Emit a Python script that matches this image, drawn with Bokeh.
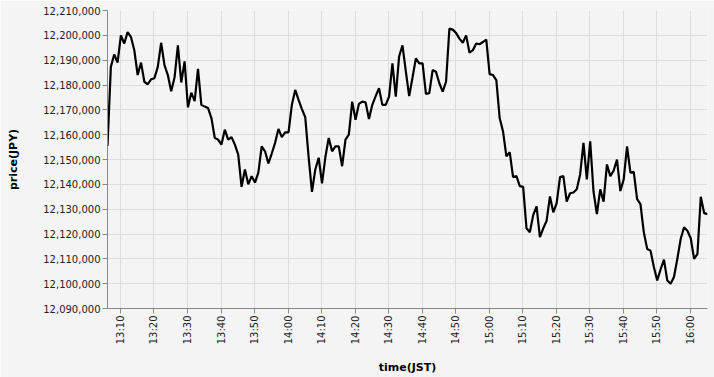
import math
import pandas as pd
from bokeh.plotting import figure
from bokeh.models import (ColumnDataSource, FixedTicker, SingleIntervalTicker,
                          NumeralTickFormatter, DatetimeTickFormatter, Range1d)
from bokeh.embed import file_html
from bokeh.resources import INLINE

# ---- data (JPY price, one value per minute starting 13:06) ----
start_time = "2024-01-01 13:06:08"
prices_1306_1359 = [
    12155500, 12187300, 12192300, 12189000, 12200000, 12196700, 12201300, 12199300,
    12194000, 12184000, 12189000, 12181300, 12180300, 12182300, 12182700, 12187300,
    12197000, 12188000, 12184000, 12177500, 12183000, 12196000, 12181000, 12189500,
    12171000, 12176900, 12173500, 12186500, 12172000, 12171300, 12170700, 12166700,
    12158700, 12158000, 12156000, 12162000, 12158000, 12159000, 12156000, 12152000,
    12139000, 12146000, 12140000, 12143300, 12140700, 12144700, 12155300, 12153300,
    12148400, 12152400, 12156700, 12162300, 12159000, 12160900,
]
prices_1400_1459 = [
    12160900, 12172000, 12178000, 12174000, 12170300, 12167000, 12151000, 12137000,
    12146000, 12150700, 12140400, 12151000, 12158700, 12153300, 12155300, 12155300,
    12147300, 12158000, 12160000, 12173300, 12166000, 12172400, 12173300, 12173000,
    12166300, 12172000, 12175500, 12178700, 12172000, 12172000, 12175300, 12188700,
    12175300, 12191500, 12196000, 12185500, 12175500, 12183000, 12190700, 12188700,
    12188700, 12176400, 12176700, 12186000, 12185300, 12180700, 12177300, 12181300,
    12202700, 12202300, 12200900, 12198700, 12197000, 12200000, 12193000, 12194000,
    12196700, 12196400, 12197300, 12198300,
]
prices_1500_1559 = [
    12184400, 12184000, 12182000, 12166700, 12161300, 12151300, 12152900, 12142900,
    12143300, 12139300, 12139000, 12122300, 12120700, 12127600, 12131100, 12118700,
    12122300, 12125300, 12135100, 12128700, 12132400, 12142900, 12143300, 12133000,
    12136400, 12136700, 12138000, 12144000, 12156700, 12142000, 12157300, 12137000,
    12128000, 12138000, 12133000, 12148000, 12143300, 12145500, 12150000, 12137300,
    12142000, 12155300, 12144700, 12145000, 12134000, 12132000, 12120700, 12114000,
    12113300, 12106700, 12101300, 12105700, 12109700, 12101300, 12100000, 12102700,
    12110000, 12118000, 12122700, 12121300,
]
prices_1600_1605 = [12118300, 12110000, 12112000, 12135000, 12128400, 12128000]

tick_times = ["13:10", "13:20", "13:30", "13:40", "13:50", "14:00", "14:10", "14:20",
              "14:30", "14:40", "14:50", "15:00", "15:10", "15:20", "15:30", "15:40",
              "15:50", "16:00"]
y_min, y_max, y_step = 12090000, 12210000, 10000

prices = prices_1306_1359 + prices_1400_1459 + prices_1500_1559 + prices_1600_1605
times = pd.date_range(start=start_time, periods=len(prices), freq="1min")
source = ColumnDataSource(dict(time=times, price=prices))

BG = "#f4f4f4"
FONT = "DejaVu Sans"

p = figure(width=714, height=377, x_axis_type="datetime",
           output_backend="svg", toolbar_location=None,
           x_range=Range1d(times[0], times[-1]),
           y_range=Range1d(y_min, y_max))
p.min_border_left = 107
p.min_border_right = 7
p.min_border_top = 10
p.min_border_bottom = 67
p.background_fill_color = BG
p.border_fill_color = BG
p.outline_line_color = None

p.line("time", "price", source=source, line_color="#000000", line_width=2.2)

# x axis
tick_ms = [pd.Timestamp("2024-01-01 " + t).value // 10**6 for t in tick_times]
p.xaxis.ticker = FixedTicker(ticks=tick_ms)
p.xaxis.formatter = DatetimeTickFormatter(minutes="%H:%M", hourmin="%H:%M",
                                          hours="%H:%M", minsec="%H:%M")
p.xaxis.major_label_orientation = math.pi / 2
p.xaxis.axis_label = "time(JST)"
p.xaxis.axis_label_standoff = 14

# y axis
p.yaxis.ticker = SingleIntervalTicker(interval=y_step)
p.yaxis.formatter = NumeralTickFormatter(format="0,0")
p.yaxis.axis_label = "price(JPY)"
p.yaxis.axis_label_standoff = 20

for ax in (p.xaxis[0], p.yaxis[0]):
    ax.axis_line_color = "#888888"
    ax.major_tick_line_color = "#888888"
    ax.major_tick_out = 5
    ax.major_tick_in = 0
    ax.minor_tick_line_color = None
    ax.major_label_text_font = FONT
    ax.major_label_text_font_size = "10px"
    ax.major_label_text_color = "#222222"
    ax.major_label_standoff = 2
    ax.axis_label_text_font = FONT
    ax.axis_label_text_font_size = "11px"
    ax.axis_label_text_font_style = "bold"
    ax.axis_label_text_color = "#000000"

p.xgrid.ticker = p.xaxis[0].ticker
p.ygrid.ticker = p.yaxis[0].ticker
p.grid.grid_line_color = "#dddddd"
p.grid.grid_line_width = 1

open("out.html", "w").write(file_html(p, INLINE))
